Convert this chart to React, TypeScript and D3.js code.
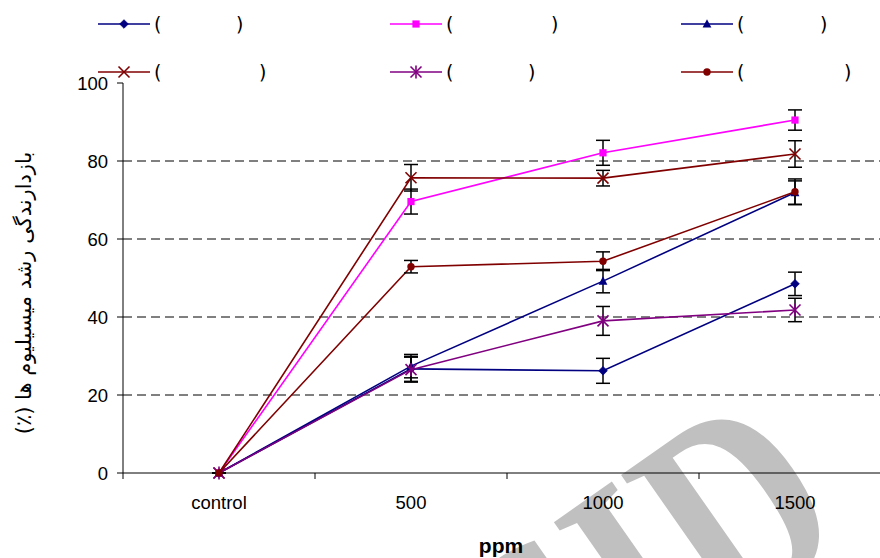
import React from "react";
import * as d3 from "d3";

const categories = ["control", "500", "1000", "1500"];
const yTicks = [0, 20, 40, 60, 80, 100];
const gridTicks = [20, 40, 60, 80];

const seriesColors = ["#000080", "#FF00FF", "#000080", "#800000", "#800080", "#800000"];
const seriesMarkers = ["diamond", "square", "triangle", "x", "star", "circle"];

const diamondValues = [0, 26.7, 26.2, 48.5];
const squareValues = [0, 69.6, 82.1, 90.5];
const triangleValues = [0, 27.4, 49.2, 71.9];
const crossValues = [0, 75.7, 75.6, 81.8];
const starValues = [0, 26.5, 39.0, 41.8];
const circleValues = [0, 52.9, 54.3, 72.1];

const diamondErrors = [0, 3.2, 3.2, 3.0];
const squareErrors = [0, 3.2, 3.2, 2.6];
const triangleErrors = [0, 3.0, 3.0, 3.0];
const crossErrors = [0, 3.4, 2.0, 3.4];
const starErrors = [0, 3.2, 3.7, 3.0];
const circleErrors = [0, 1.6, 2.4, 3.3];

const seriesValues = [diamondValues, squareValues, triangleValues, crossValues, starValues, circleValues];
const seriesErrors = [diamondErrors, squareErrors, triangleErrors, crossErrors, starErrors, circleErrors];

// legend labels (the names inside the parentheses are blank in the source)
const legendOpen = ["(", "(", "(", "(", "(", "("];
const legendClose = [")", ")", ")", ")", ")", ")"];

const yLabel = "بازدارندگی رشد میسیلیوم ها (٪)";
const xLabel = "ppm";
const watermark = "SID";

const W = 880;
const H = 558;
const left = 123;
const bandRight = 891;
const top = 83;
const bottom = 473;

const x = d3.scaleBand<string>().domain(categories).range([left, bandRight]);
const y = d3.scaleLinear().domain([0, 100]).range([bottom, top]);

const FONT = "'Liberation Sans', Arial, sans-serif";

function Marker({ type, color, cx, cy }: { type: string; color: string; cx: number; cy: number }) {
  switch (type) {
    case "diamond":
      return <path d={`M${cx},${cy - 4.3}L${cx + 4.3},${cy}L${cx},${cy + 4.3}L${cx - 4.3},${cy}Z`} fill={color} stroke={color} strokeWidth={0.8} />;
    case "square":
      return <rect x={cx - 3.6} y={cy - 3.6} width={7.2} height={7.2} fill={color} />;
    case "triangle":
      return <path d={`M${cx},${cy - 4.8}L${cx + 4.4},${cy + 3.6}L${cx - 4.4},${cy + 3.6}Z`} fill={color} />;
    case "x":
      return (
        <g stroke={color} strokeWidth={1.6}>
          <line x1={cx - 5.5} y1={cy - 5.5} x2={cx + 5.5} y2={cy + 5.5} />
          <line x1={cx - 5.5} y1={cy + 5.5} x2={cx + 5.5} y2={cy - 5.5} />
        </g>
      );
    case "star":
      return (
        <g stroke={color} strokeWidth={1.6}>
          <line x1={cx - 5.5} y1={cy - 5.5} x2={cx + 5.5} y2={cy + 5.5} />
          <line x1={cx - 5.5} y1={cy + 5.5} x2={cx + 5.5} y2={cy - 5.5} />
          <line x1={cx} y1={cy - 6.5} x2={cx} y2={cy + 6.5} />
        </g>
      );
    default:
      return <circle cx={cx} cy={cy} r={3.7} fill={color} />;
  }
}

const legendCols = [98, 390, 681];
const legendRows = [24, 72];
const legendCloseX = [236, 551, 820, 259, 528, 844];

export default function App() {
  const line = d3
    .line<number>()
    .x((_, i) => (x(categories[i]) as number) + x.bandwidth() / 2)
    .y((v) => y(v));

  const boundaries = d3.range(categories.length + 1).map((i) => left + i * x.bandwidth());

  return (
    <svg width={W} height={H} style={{ position: "absolute", left: 0, top: 0, background: "#fff" }} fontFamily={FONT}>
      <rect width={W} height={H} fill="#fff" />
      {/* watermark */}
      <text
        transform="translate(555,750) rotate(-35) scale(1,1.3)"
        fontFamily="'Liberation Serif', 'DejaVu Serif', serif"
        fontWeight="bold"
        fontSize={220}
        fill="#c0c0c0"
      >
        {watermark}
      </text>

      {/* gridlines */}
      {gridTicks.map((t) => (
        <line key={t} x1={left} x2={W} y1={y(t)} y2={y(t)} stroke="#000" strokeWidth={1} strokeDasharray="9,5" />
      ))}

      {/* axes */}
      <line x1={left} x2={left} y1={top} y2={bottom} stroke="#000" strokeWidth={1} />
      <line x1={left} x2={W} y1={bottom} y2={bottom} stroke="#000" strokeWidth={1} />
      {yTicks.map((t) => (
        <g key={t}>
          <line x1={left - 6} x2={left} y1={y(t)} y2={y(t)} stroke="#000" />
          <text x={108} y={y(t)} dy="0.36em" textAnchor="end" fontSize={18.5} fill="#000">
            {t}
          </text>
        </g>
      ))}
      {boundaries.map((b, i) => (
        <line key={i} x1={b} x2={b} y1={bottom} y2={bottom + 6} stroke="#000" />
      ))}
      {categories.map((c) => (
        <text key={c} x={(x(c) as number) + x.bandwidth() / 2} y={509} textAnchor="middle" fontSize={18.5} fill="#000">
          {c}
        </text>
      ))}
      <text x={501} y={553} textAnchor="middle" fontSize={21} fontWeight="bold" fill="#000">
        {xLabel}
      </text>
      <text
        transform="translate(24,293) rotate(-90)"
        textAnchor="middle"
        direction="rtl"
        fontFamily="'DejaVu Sans', sans-serif"
        fontSize={21}
        fill="#000"
        dy="0.35em"
      >
        {yLabel}
      </text>

      {/* series */}
      {seriesValues.map((vals, si) => (
        <g key={si}>
          <path d={line(vals) as string} fill="none" stroke={seriesColors[si]} strokeWidth={1.6} />
          {vals.map((v, i) => {
            const cx = (x(categories[i]) as number) + x.bandwidth() / 2;
            const e = seriesErrors[si][i];
            return (
              <g key={i} stroke="#000" strokeWidth={1.5}>
                <line x1={cx} x2={cx} y1={y(v + e)} y2={y(v - e)} />
                <line x1={cx - 7} x2={cx + 7} y1={y(v + e)} y2={y(v + e)} />
                <line x1={cx - 7} x2={cx + 7} y1={y(v - e)} y2={y(v - e)} />
              </g>
            );
          })}
          {vals.map((v, i) => (
            <Marker
              key={i}
              type={seriesMarkers[si]}
              color={seriesColors[si]}
              cx={(x(categories[i]) as number) + x.bandwidth() / 2}
              cy={y(v)}
            />
          ))}
        </g>
      ))}

      {/* legend */}
      {seriesColors.map((c, si) => {
        const lx = legendCols[si % 3];
        const ly = legendRows[Math.floor(si / 3)];
        return (
          <g key={si}>
            <line x1={lx} x2={lx + 52} y1={ly} y2={ly} stroke={c} strokeWidth={1.6} />
            <Marker type={seriesMarkers[si]} color={c} cx={lx + 26} cy={ly} />
            <text x={lx + 56} y={ly} dy="0.35em" fontSize={19} fill="#000" fontFamily="'DejaVu Sans', sans-serif">
              {legendOpen[si]}
            </text>
            <text x={legendCloseX[si]} y={ly} dy="0.35em" fontSize={19} fill="#000" fontFamily="'DejaVu Sans', sans-serif">
              {legendClose[si]}
            </text>
          </g>
        );
      })}
    </svg>
  );
}
